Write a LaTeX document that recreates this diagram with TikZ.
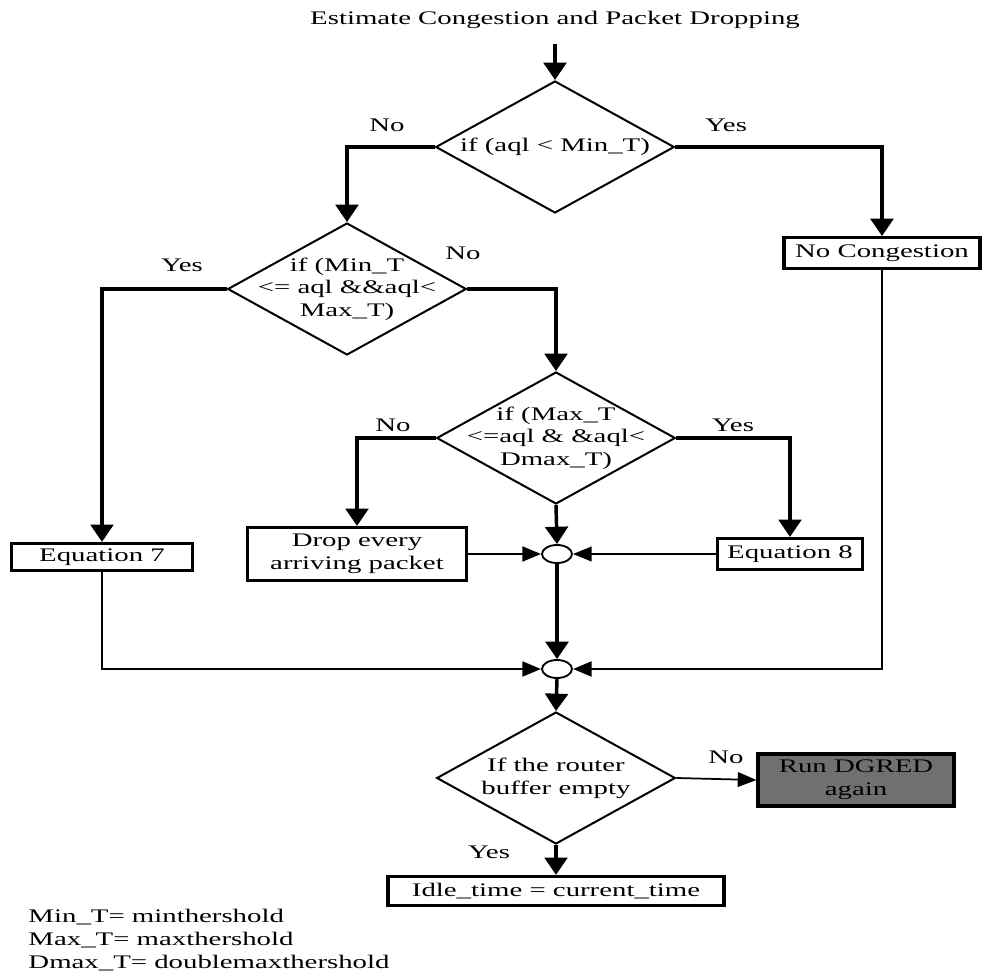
\documentclass[tikz,border=0pt]{standalone}
\usepackage{fontspec}
\setmainfont{Liberation Serif}[FakeStretch=1.5]
\usetikzlibrary{shapes.geometric,arrows.meta}

\definecolor{runfill}{RGB}{112,112,112}

\tikzset{every picture/.style={line width=0.75pt}}
\tikzset{
	txt/.style={font=\fontsize{14.4}{17}\selectfont, align=center},
	decision/.style={txt, shape=diamond, aspect=1.81, draw, line width=1.5pt, inner sep=-10pt, minimum width=179pt, minimum height=99pt},
	procbox/.style={txt, draw, line width=2.4pt, inner sep=0pt},
	junction/.style={shape=ellipse, draw, line width=1.4pt, fill=white, inner sep=0pt, minimum width=22.5pt, minimum height=13.5pt},
	flow/.style={line width=2.6pt, -{Triangle[length=13pt,width=17pt]}},
	flowh/.style={line width=2.2pt, -{Triangle[length=14pt,width=11pt]}},
	flowthin/.style={line width=1.3pt, -{Triangle[length=14pt,width=11pt]}},
}

\begin{document}
\begin{tikzpicture}[x=0.75pt,y=0.75pt,yscale=-1,xscale=1]
		\useasboundingbox (0,0) rectangle (983,978);

		%title
		\draw (555,20) node [txt] (title) {Estimate Congestion and Packet Dropping};

		%decisions
		\draw (555,147) node [decision] (d1) {if (aql < Min\_T)};
		\draw (347,289) node [decision] (d2) {if (Min\_T\\<= aql \&\&aql<\\Max\_T)};
		\draw (556,438) node [decision] (d3) {if (Max\_T\\<=aql \& \&aql<\\Dmax\_T)};
		\draw (556,778) node [decision] (d4) {If the router\\buffer empty};

		%boxes
		\draw (882,253) node [procbox, minimum width=147pt, minimum height=23pt] (nocong) {No Congestion};
		\draw (102,557) node [procbox, minimum width=135.75pt, minimum height=20.25pt] (eqseven) {Equation 7};
		\draw (357,554) node [procbox, minimum width=164.25pt, minimum height=39.75pt] (drop) {Drop every\\arriving packet};
		\draw (790,554) node [procbox, minimum width=108.75pt, minimum height=23.25pt] (eqeight) {Equation 8};
		\draw (556,891) node [procbox, minimum width=252pt, minimum height=21.75pt] (idle) {Idle\_time = current\_time};
		\draw (856,780) node [procbox, fill=runfill, minimum width=147pt, minimum height=39pt] (rerun) {Run DGRED\\again};

		%junctions
		\draw (557,554) node [junction] (j1) {};
		\draw (557,669) node [junction] (j2) {};

		%connectors
		\draw [flow, shorten <=8pt] (title.south) -- (d1.north);
		\draw [flow] (d1.west) -| (d2.north);
		\draw [flow] (d1.east) -| (nocong.north);
		\draw [flow] (d2.west) -| (eqseven.north);
		\draw [flow] (d2.east) -| (d3.north);
		\draw [flow] (d3.west) -| (drop.north);
		\draw [flow] (d3.east) -| (eqeight.north);
		\draw [flow] (d3.south) -- (j1.north);
		\draw [flowh] (drop.east) -- (j1.west);
		\draw [flowthin] (eqeight.west) -- (j1.east);
		\draw [flow] (j1.south) -- (j2.north);
		\draw [flowh] (eqseven.south) |- (j2.west);
		\draw [flowh] (nocong.south) |- (j2.east);
		\draw [flow] (j2.south) -- (d4.north);
		\draw [flowthin] (d4.east) -- (rerun.west);
		\draw [flow] (d4.south) -- (idle.north);

		%labels
		\draw (387,125) node [txt] (lno1) {No};
		\draw (726,125) node [txt] (lyes1) {Yes};
		\draw (182,265) node [txt] (lyes2) {Yes};
		\draw (463,253) node [txt] (lno2) {No};
		\draw (393,425) node [txt] (lno3) {No};
		\draw (733,425) node [txt] (lyes3) {Yes};
		\draw (726,757) node [txt] (lno4) {No};
		\draw (489,852) node [txt] (lyes4) {Yes};

		%legend
		\draw (28,940) node [txt, anchor=west, align=left, inner sep=0pt] (legend) {Min\_T= minthershold\\Max\_T= maxthershold\\Dmax\_T= doublemaxthershold};

		\end{tikzpicture}
\end{document}
